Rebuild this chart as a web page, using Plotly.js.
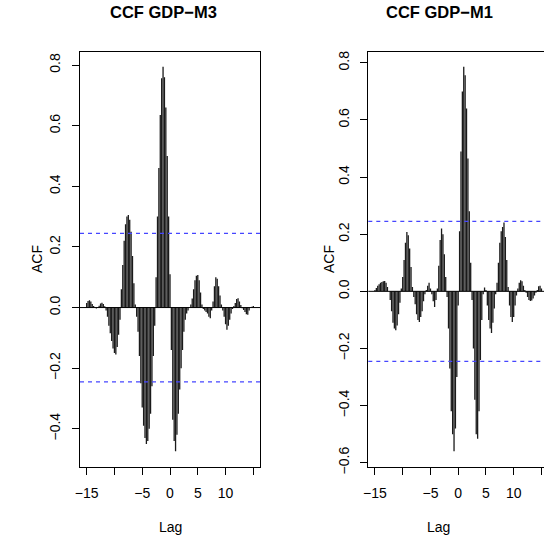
<!DOCTYPE html>
<html>
<head>
<meta charset="utf-8">
<script src="https://cdn.plot.ly/plotly-3.0.1.min.js"></script>
<style>
  html, body { margin: 0; padding: 0; background: #fff; }
  #chart { width: 544px; height: 542px; }
</style>
</head>
<body>
<div id="chart"></div>
<script>
// Lags run from -15 to 15 years in quarterly steps
const lagStart = -15;
const lagStep = 0.25;

// Cross-correlation GDP vs M3, one value per lag
const ccfM3 = [
  0.015, 0.022, 0.024, 0.020, 0.012, 0.005, 0.000, -0.003, 0.002, 0.006,
  0.013, 0.016, 0.012, 0.004, -0.010, -0.030, -0.060, -0.085, -0.110, -0.135,
  -0.150, -0.155, -0.130, -0.090, -0.040, 0.060, 0.140, 0.220, 0.275, 0.300,
  0.305, 0.290, 0.250, 0.170, 0.080, 0.010, -0.030, -0.080, -0.160, -0.250,
  -0.330, -0.390, -0.430, -0.450, -0.440, -0.400, -0.350, -0.260, -0.160, -0.060,
  0.100, 0.300, 0.460, 0.635, 0.756, 0.794, 0.760, 0.660, 0.500, 0.300,
  0.110, -0.140, -0.370, -0.440, -0.474, -0.420, -0.350, -0.270, -0.200, -0.140,
  -0.080, -0.040, -0.020, -0.010, 0.000, 0.010, 0.030, 0.060, 0.090, 0.105,
  0.107, 0.090, 0.050, 0.010, -0.005, -0.010, -0.015, -0.020, -0.030, -0.035,
  -0.010, 0.020, 0.070, 0.100, 0.095, 0.070, 0.040, 0.010, -0.010, -0.030,
  -0.055, -0.073, -0.060, -0.040, -0.020, -0.005, 0.005, 0.015, 0.028, 0.031,
  0.020, 0.008, -0.002, -0.008, -0.015, -0.022, -0.024, -0.010, 0.000, 0.003,
  0.005
];

// Cross-correlation GDP vs M1, one value per lag
const ccfM1 = [
  0.005, 0.012, 0.020, 0.025, 0.030, 0.033, 0.035, 0.036, 0.030, 0.015,
  0.000, -0.030, -0.070, -0.110, -0.130, -0.136, -0.120, -0.080, -0.040, 0.010,
  0.050, 0.110, 0.170, 0.208, 0.196, 0.150, 0.085, 0.015, -0.020, -0.045,
  -0.080, -0.100, -0.107, -0.090, -0.070, -0.035, -0.010, 0.005, 0.020, 0.030,
  0.010, -0.010, -0.035, -0.055, -0.030, 0.010, 0.090, 0.180, 0.220, 0.200,
  0.130, 0.050, -0.020, -0.130, -0.270, -0.420, -0.500, -0.560, -0.480, -0.300,
  -0.050, 0.210, 0.490, 0.700, 0.786, 0.757, 0.640, 0.465, 0.280, 0.100,
  -0.030, -0.200, -0.380, -0.500, -0.516, -0.420, -0.240, -0.100, -0.010, 0.013,
  0.005, -0.050, -0.100, -0.130, -0.146, -0.110, -0.060, -0.010, 0.030, 0.100,
  0.170, 0.210, 0.225, 0.241, 0.190, 0.110, 0.015, -0.050, -0.090, -0.107,
  -0.090, -0.050, -0.015, 0.010, 0.030, 0.039, 0.035, 0.020, 0.005, -0.005,
  -0.020, -0.030, -0.034, -0.032, -0.025, -0.015, -0.005, 0.005, 0.018, 0.020,
  0.010
];

// Approximate 95% bound, 1.96 / sqrt(n)
const confBound = 0.245;

const xTickVals = [-15, -10, -5, 0, 5, 10, 15];
const xTickText = ['\u221215', '', '\u22125', '0', '5', '10', ''];
const yTickValsM3 = [-0.4, -0.2, 0, 0.2, 0.4, 0.6, 0.8];
const yTickValsM1 = [-0.6, -0.4, -0.2, 0, 0.2, 0.4, 0.6, 0.8];

function fmt(v) {
  const s = Math.abs(v).toFixed(1);
  return v < 0 ? '\u2212' + s : s;
}

// Vertical spikes from zero, like R's type = "h"
function spikes(values, xa, ya) {
  const x = [], y = [];
  values.forEach((v, i) => {
    const lag = lagStart + i * lagStep;
    x.push(lag, lag, null);
    y.push(0, v, null);
  });
  return {
    type: 'scatter', mode: 'lines', x: x, y: y, xaxis: xa, yaxis: ya,
    line: { color: '#1a1a1a', width: 1.3 }, hoverinfo: 'skip', showlegend: false
  };
}

const W = 544, H = 542;
const px = v => v / W;
const py = v => 1 - v / H;

const font = { family: 'Liberation Sans, Arial, Helvetica, sans-serif', size: 14, color: '#000' };

const baseX = {
  showgrid: false, zeroline: false, showline: true, linecolor: '#000', linewidth: 1,
  ticks: 'outside', ticklen: 7, tickcolor: '#000', tickwidth: 1,
  tickvals: xTickVals, ticktext: xTickText, tickfont: font, ticklabelstandoff: 6,
  fixedrange: true
};
const baseY = {
  showgrid: false, zeroline: false, showline: true, linecolor: '#000', linewidth: 1,
  ticks: 'outside', ticklen: 7, tickcolor: '#000', tickwidth: 1,
  tickangle: -90, tickfont: font, ticklabelstandoff: 6, fixedrange: true
};

const yDomain = [py(466.7), py(52)];

const layout = {
  width: W, height: H,
  margin: { l: 0, r: 0, t: 0, b: 0 },
  paper_bgcolor: '#fff', plot_bgcolor: '#fff',
  font: font, showlegend: false,
  xaxis: Object.assign({}, baseX, {
    domain: [px(80), px(260)], range: [-16.2, 16.2], anchor: 'y', mirror: true
  }),
  yaxis: Object.assign({}, baseY, {
    domain: yDomain, range: [-0.525, 0.843], anchor: 'x', mirror: true,
    tickvals: yTickValsM3, ticktext: yTickValsM3.map(fmt)
  }),
  xaxis2: Object.assign({}, baseX, {
    domain: [px(368.3), 1], range: [-16.2, 15.46], anchor: 'y2', mirror: true
  }),
  yaxis2: Object.assign({}, baseY, {
    domain: yDomain, range: [-0.614, 0.838], anchor: 'x2', mirror: false,
    tickvals: yTickValsM1, ticktext: yTickValsM1.map(fmt)
  }),
  shapes: [],
  annotations: []
};

// Zero line and dashed confidence bounds for each panel
[['x', 'y'], ['x2', 'y2']].forEach(([xa, ya]) => {
  layout.shapes.push({
    type: 'line', xref: xa + ' domain', yref: ya, x0: 0, x1: 1, y0: 0, y1: 0,
    line: { color: '#000', width: 1 }
  });
  [confBound, -confBound].forEach(b => layout.shapes.push({
    type: 'line', xref: xa + ' domain', yref: ya, x0: 0, x1: 1, y0: b, y1: b,
    line: { color: 'rgb(70,70,255)', width: 1.2, dash: '4px,4px' }
  }));
});

// Titles and axis labels
const titleFont = Object.assign({}, font, { size: 16.5, weight: 'bold' });
function note(text, x, y, f, angle) {
  layout.annotations.push({
    text: text, xref: 'paper', yref: 'paper', x: px(x), y: py(y),
    xanchor: 'center', yanchor: 'middle', showarrow: false, font: f,
    textangle: angle || 0
  });
}
note('<b>CCF GDP\u2212M3</b>', 163.5, 12, titleFont);
note('<b>CCF GDP\u2212M1</b>', 439.3, 12, titleFont);
note('Lag', 170, 527, font);
note('Lag', 438, 527, font);
note('ACF', 37, 259, font, -90);
note('ACF', 329, 259, font, -90);

Plotly.newPlot('chart', [
  spikes(ccfM3, 'x', 'y'),
  spikes(ccfM1, 'x2', 'y2')
], layout, { staticPlot: true, displayModeBar: false });
</script>
</body>
</html>
